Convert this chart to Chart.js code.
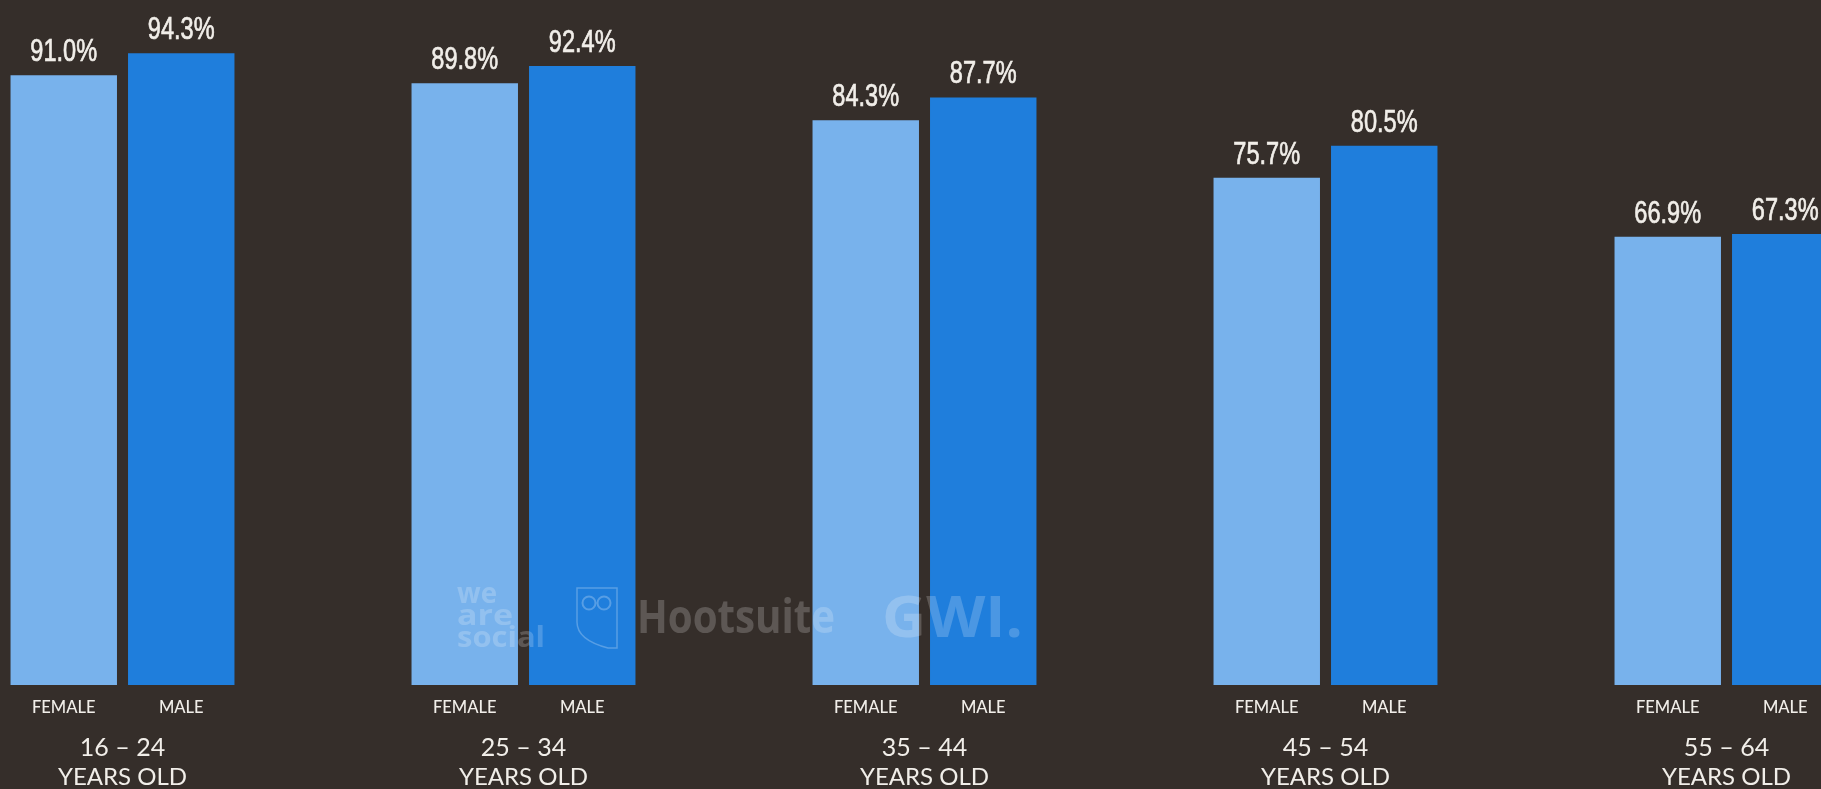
<!DOCTYPE html>
<html>
<head>
<meta charset="utf-8">
<script src="https://cdn.jsdelivr.net/npm/chart.js@4.4.1/dist/chart.umd.min.js"></script>
<style>
  html, body { margin: 0; padding: 0; background: #352e2a; overflow: hidden; }
  #wrap { position: relative; width: 1821px; height: 789px; overflow: hidden; }
  #chart { position: absolute; left: -78px; top: 0; }
</style>
</head>
<body>
<div id="wrap"><canvas id="chart" width="2005" height="789"></canvas></div>
<script>
// age groups and share of each gender (%)
var groups = ['16 – 24', '25 – 34', '35 – 44', '45 – 54', '55 – 64'];
var female = [91.0, 89.8, 84.3, 75.7, 66.9];
var male = [94.3, 92.4, 87.7, 80.5, 67.3];
var seriesNames = ['FEMALE', 'MALE'];

var BG = '#352e2a';
var TEXT = '#f1eee9';
var OFF = 78; // canvas sits this far left of the page edge

// draw text squeezed horizontally (narrow face look), slightly heavier
function squeezed(c, text, x, y, sx) {
    c.save();
    c.translate(x, y);
    c.scale(sx, 1);
    c.fillText(text, 0, 0);
    c.lineWidth = 0.7;
    c.strokeStyle = c.fillStyle;
    c.strokeText(text, 0, 0);
    c.restore();
}

// text stretched or squeezed to a given width, left aligned
function fitText(c, text, x, y, width) {
    var w = c.measureText(text).width;
    c.save();
    c.translate(x, y);
    c.scale(width / w, 1);
    c.fillText(text, 0, 0);
    c.restore();
}

// background, value labels, bar captions and group captions
var labelsPlugin = {
    id: 'labels',
    beforeDraw: function (chart) {
        var c = chart.ctx;
        c.save();
        c.fillStyle = BG;
        c.fillRect(0, 0, chart.width, chart.height);
        c.restore();
    },
    afterDatasetsDraw: function (chart) {
        var c = chart.ctx;
        c.save();
        c.fillStyle = TEXT;
        c.textAlign = 'center';

        chart.data.datasets.forEach(function (ds, di) {
            var meta = chart.getDatasetMeta(di);
            meta.data.forEach(function (bar, i) {
                // value above the bar
                c.font = '31px "Liberation Sans", Arial, sans-serif';
                c.textBaseline = 'alphabetic';
                squeezed(c, ds.data[i].toFixed(1) + '%', bar.x, bar.y - 14, 0.76);
                // gender caption under the bar
                c.font = '500 16.5px Lato, sans-serif';
                c.textBaseline = 'middle';
                c.fillText(seriesNames[di], bar.x, 708);
            });
        });

        var xs = chart.scales.x;
        c.textBaseline = 'middle';
        groups.forEach(function (g, i) {
            var x = xs.getPixelForValue(i);
            c.font = '25px Lato, sans-serif';
            c.fillText(g, x, 748);
            c.font = '24px Lato, sans-serif';
            c.fillText('YEARS OLD', x, 777);
        });
        c.restore();
        drawLogos(c);
    }
};

// faint partner marks across the lower middle
function drawLogos(c) {
    c.save();
    c.fillStyle = 'rgba(255,255,255,0.2)';
    c.strokeStyle = 'rgba(255,255,255,0.25)';
    c.textAlign = 'left';
    c.textBaseline = 'alphabetic';

    c.font = 'bold 28px "Open Sans", sans-serif';
    fitText(c, 'we', 457 + OFF, 603, 40);
    fitText(c, 'are', 457 + OFF, 625, 56);
    fitText(c, 'social', 457 + OFF, 647, 88);

    // owl shield
    c.lineWidth = 1.5;
    c.beginPath();
    c.moveTo(577 + OFF, 588);
    c.lineTo(617 + OFF, 588);
    c.lineTo(617 + OFF, 648);
    c.lineTo(608 + OFF, 648);
    c.quadraticCurveTo(577 + OFF, 640, 577 + OFF, 622);
    c.closePath();
    c.stroke();
    c.lineWidth = 2;
    c.beginPath();
    c.arc(589 + OFF, 603, 6.5, 0, Math.PI * 2);
    c.stroke();
    c.beginPath();
    c.arc(604 + OFF, 603, 6.5, 0, Math.PI * 2);
    c.stroke();

    c.font = 'bold 46px "Open Sans", sans-serif';
    fitText(c, 'Hootsuite', 637 + OFF, 633, 198);

    c.font = 'bold 58px "Open Sans", sans-serif';
    fitText(c, 'GWI.', 882 + OFF, 637, 141);
    c.restore();
}

var config = {
    type: 'bar',
    data: {
        labels: groups,
        datasets: [{
            label: seriesNames[0],
            data: female,
            backgroundColor: '#78b2ec'
        }, {
            label: seriesNames[1],
            data: male,
            backgroundColor: '#1f7edc'
        }]
    },
    options: {
        responsive: false,
        animation: false,
        devicePixelRatio: 1,
        categoryPercentage: 0.586,
        barPercentage: 0.906,
        layout: {
            padding: { top: 15, bottom: 104, left: 0, right: 0 }
        },
        scales: {
            x: { display: false },
            y: { display: false, min: 0, max: 100 }
        },
        plugins: {
            legend: { display: false },
            tooltip: { enabled: false }
        }
    },
    plugins: [labelsPlugin]
};

var chart = new Chart(document.getElementById('chart'), config);
</script>
</body>
</html>
